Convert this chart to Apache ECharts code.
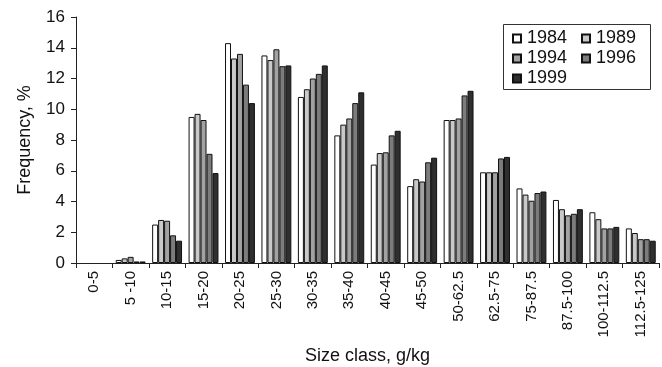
<!DOCTYPE html>
<html>
<head>
<meta charset="utf-8">
<script src="https://cdn.jsdelivr.net/npm/echarts@6/dist/echarts.min.js"></script>
<style>html,body{margin:0;padding:0;background:#fff}#c{width:662px;height:367px}</style>
</head>
<body>
<div id="c"></div>
<script>
const categories = ['0-5','5 -10','10-15','15-20','20-25','25-30','30-35','35-40','40-45','45-50','50-62.5','62.5-75','75-87.5','87.5-100','100-112.5','112.5-125'];
const years = ['1984','1989','1994','1996','1999'];
const v1984 = [0, 0.2, 2.5, 9.5, 14.3, 13.5, 10.8, 8.3, 6.4, 5.0, 9.3, 5.9, 4.85, 4.1, 3.3, 2.25];
const v1989 = [0, 0.3, 2.8, 9.7, 13.3, 13.2, 11.3, 9.0, 7.15, 5.45, 9.3, 5.9, 4.45, 3.5, 2.85, 1.95];
const v1994 = [0, 0.4, 2.75, 9.3, 13.6, 13.9, 12.0, 9.4, 7.2, 5.3, 9.4, 5.9, 4.05, 3.1, 2.25, 1.55];
const v1996 = [0, 0.1, 1.8, 7.1, 11.6, 12.8, 12.3, 10.4, 8.3, 6.55, 10.9, 6.8, 4.55, 3.2, 2.25, 1.55];
const v1999 = [0, 0.1, 1.45, 5.85, 10.4, 12.85, 12.85, 11.1, 8.6, 6.85, 11.2, 6.9, 4.65, 3.5, 2.35, 1.45];
const yTicks = [0, 2, 4, 6, 8, 10, 12, 14, 16];
const colors = ['#ffffff', '#c9c9c9', '#a2a2a2', '#7c7c7c', '#2f2f2f'];
const values = [v1984, v1989, v1994, v1996, v1999];

const chart = echarts.init(document.getElementById('c'), null, {renderer: 'canvas'});
const font = 'Liberation Sans, Arial, sans-serif';
const legendCommon = {
  top: 29,
  orient: 'vertical',
  padding: 0,
  itemGap: 1,
  itemWidth: 8, itemHeight: 8,
  icon: 'rect',
  textStyle: {fontSize: 18, color: '#111', lineHeight: 19, padding: [0,0,0,1]}
};
chart.setOption({
  animation: false,
  textStyle: {fontFamily: font},
  grid: {left: 76, right: 3, top: 17, bottom: 104, containLabel: false, outerBoundsMode: 'none'},
  graphic: [{
    type: 'rect', left: 501, top: 22,
    shape: {width: 147, height: 65},
    style: {fill: 'none', stroke: '#333', lineWidth: 1},
    z: 100
  }],
  legend: [
    Object.assign({}, legendCommon, {left: 512, data: [years[0], years[2], years[4]]}),
    Object.assign({}, legendCommon, {left: 581, data: [years[1], years[3]]})
  ],
  xAxis: {
    type: 'category',
    data: categories,
    boundaryGap: true,
    axisLine: {lineStyle: {color: '#222', width: 1}},
    axisTick: {show: true, alignWithLabel: false, length: 5, lineStyle: {color: '#222'}},
    axisLabel: {rotate: 90, fontSize: 15, color: '#111', margin: 8, interval: 0},
    name: 'Size class, g/kg',
    nameLocation: 'middle',
    nameGap: 84,
    nameTextStyle: {fontSize: 18, color: '#111'}
  },
  yAxis: {
    type: 'value',
    min: 0, max: 16, interval: 2,
    splitLine: {show: false},
    axisLine: {show: true, lineStyle: {color: '#222', width: 1}},
    axisTick: {show: true, length: 5, lineStyle: {color: '#222'}},
    axisLabel: {fontSize: 17, color: '#111', margin: 11,
      formatter: v => yTicks.includes(v) ? String(v) : ''},
    name: 'Frequency, %',
    nameLocation: 'middle',
    nameGap: 42,
    nameTextStyle: {fontSize: 18, color: '#111'}
  },
  series: years.map((y, i) => ({
    name: y,
    type: 'bar',
    data: values[i].map(v => v === 0 ? '-' : v),
    barGap: '0%',
    barCategoryGap: '18%',
    itemStyle: {color: colors[i], borderColor: '#111', borderWidth: 1}
  }))
});
</script>
</body>
</html>
